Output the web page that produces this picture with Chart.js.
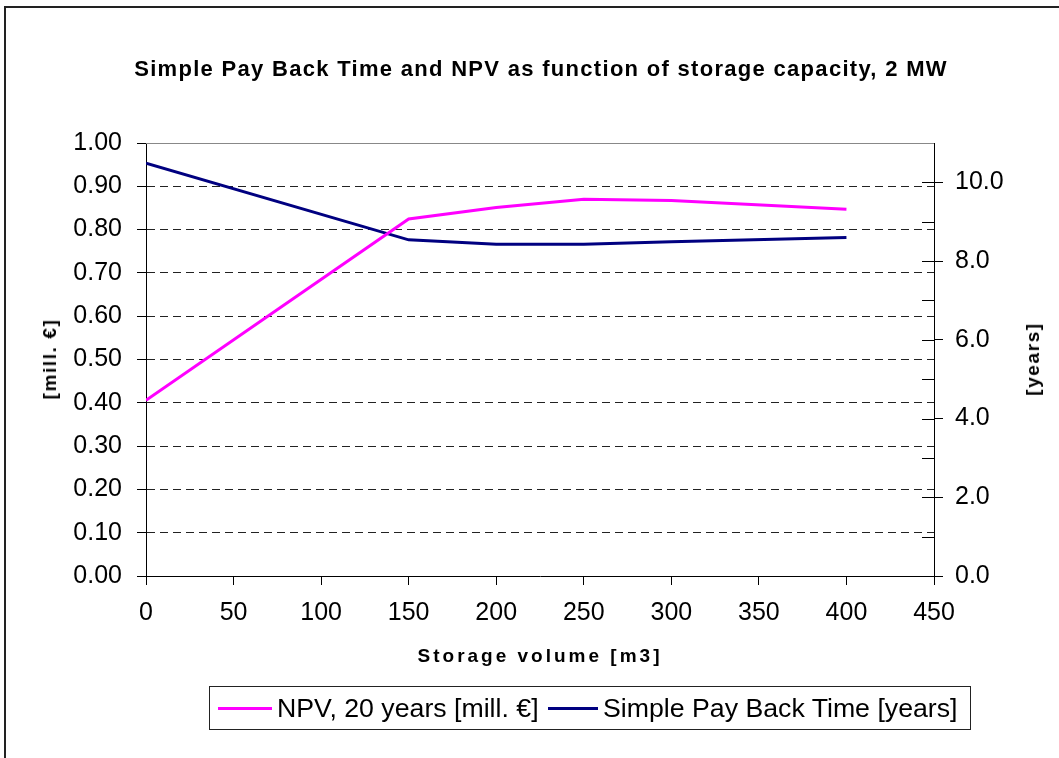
<!DOCTYPE html>
<html>
<head>
<meta charset="utf-8">
<script src="https://cdn.jsdelivr.net/npm/chart.js@4.4.0/dist/chart.umd.min.js"></script>
<style>
  html, body { margin:0; padding:0; background:#fff; }
  #wrap { position:relative; width:1059px; height:758px; overflow:hidden; font-family:"Liberation Sans", Arial, sans-serif; color:#000; }
  #frame { position:absolute; left:4px; top:6px; width:2000px; height:2000px; border-left:2px solid #222; border-top:2px solid #222; }
  canvas { position:absolute; left:0; top:0; }
  .t { position:absolute; white-space:nowrap; transform:translate(-50%,-50%); }
  #title { left:541px; top:69px; font-weight:bold; font-size:22px; letter-spacing:1.3px; }
  #xtitle { left:540px; top:656px; font-weight:bold; font-size:19px; letter-spacing:3px; }
  #ytitle { left:50px; top:359px; font-weight:bold; font-size:19px; letter-spacing:1.6px; transform:translate(-50%,-50%) rotate(-90deg); }
  #y2title { left:1033px; top:359px; font-weight:bold; font-size:19px; letter-spacing:1.6px; transform:translate(-50%,-50%) rotate(-90deg); }
  #legend { position:absolute; left:209px; top:686px; width:760px; height:42px; border:1px solid #222; }
  .ll { position:absolute; height:3px; top:20px; }
  .lt { position:absolute; top:21px; transform:translateY(-50%); font-size:26.7px; white-space:nowrap; }
</style>
</head>
<body>
<div id="wrap">
  <div id="frame"></div>
  <canvas id="c" width="1059" height="758"></canvas>
  <div class="t" id="title">Simple Pay Back Time and NPV as function of storage capacity, 2 MW</div>
  <div class="t" id="xtitle">Storage volume [m3]</div>
  <div class="t" id="ytitle">[mill. €]</div>
  <div class="t" id="y2title">[years]</div>
  <div id="legend">
    <div class="ll" style="left:8px;width:54px;background:#FF00FF"></div>
    <div class="lt" style="left:67px">NPV, 20 years [mill. €]</div>
    <div class="ll" style="left:338px;width:50px;background:#000080"></div>
    <div class="lt" style="left:393px">Simple Pay Back Time [years]</div>
  </div>
</div>
<script>
const volumes = [0, 150, 200, 250, 300, 400];
const npv = [0.406, 0.8245, 0.851, 0.870, 0.867, 0.847];
const payback = [10.49, 8.54, 8.43, 8.43, 8.49, 8.60];
const xTicks = [0, 50, 100, 150, 200, 250, 300, 350, 400, 450];
const yTicks = [0, 0.1, 0.2, 0.3, 0.4, 0.5, 0.6, 0.7, 0.8, 0.9, 1.0];
const y2Ticks = [0, 2, 4, 6, 8, 10];
const y2Minor = [1, 3, 5, 7, 9];

Chart.defaults.font.family = '"Liberation Sans", Arial, sans-serif';
Chart.defaults.color = '#000';

const frame = {
  id: 'frame',
  afterDraw(chart) {
    const {ctx, chartArea: a, scales} = chart;
    ctx.save();
    ctx.strokeStyle = '#888';
    ctx.lineWidth = 1;
    ctx.beginPath();
    ctx.moveTo(a.left, a.top + 0.5);
    ctx.lineTo(a.right, a.top + 0.5);
    ctx.stroke();
    ctx.strokeStyle = '#000';
    const y2 = scales.y2;
    ctx.beginPath();
    y2Ticks.forEach(v => { const p = Math.round(y2.getPixelForValue(v)) + 0.5; ctx.moveTo(a.right - 12, p); ctx.lineTo(a.right, p); });
    y2Minor.forEach(v => { const p = Math.round(y2.getPixelForValue(v)) + 0.5; ctx.moveTo(a.right - 12, p); ctx.lineTo(a.right, p); });
    ctx.stroke();
    ctx.restore();
  }
};

new Chart(document.getElementById('c'), {
  type: 'line',
  data: {
    datasets: [
      { label: 'NPV, 20 years [mill. €]', data: volumes.map((v, i) => ({x: v, y: npv[i]})), borderColor: '#FF00FF', backgroundColor: '#FF00FF', borderWidth: 3, pointRadius: 0, tension: 0, yAxisID: 'y' },
      { label: 'Simple Pay Back Time [years]', data: volumes.map((v, i) => ({x: v, y: payback[i]})), borderColor: '#000080', backgroundColor: '#000080', borderWidth: 3, pointRadius: 0, tension: 0, yAxisID: 'y2' }
    ]
  },
  options: {
    responsive: false,
    animation: false,
    layout: { padding: { top: 143, left: 0, right: 0, bottom: 0 } },
    plugins: { legend: { display: false }, title: { display: false }, tooltip: { enabled: false } },
    scales: {
      x: {
        type: 'linear', min: 0, max: 450,
        afterBuildTicks: s => { s.ticks = xTicks.map(v => ({value: v})); },
        afterFit: s => { s.height = 182; },
        ticks: { font: { size: 25 }, padding: 13, maxRotation: 0, autoSkip: false },
        grid: { drawOnChartArea: false, tickLength: 9, color: '#000' },
        border: { display: true, color: '#000', width: 1 }
      },
      y: {
        type: 'linear', position: 'left', min: 0, max: 1,
        afterBuildTicks: s => { s.ticks = yTicks.map(v => ({value: v})); },
        afterFit: s => { s.width = 146; },
        ticks: { font: { size: 25 }, padding: 15, callback: v => v.toFixed(2) },
        grid: {
          tickLength: 9, tickColor: '#000', tickBorderDash: [],
          color: c => (c.tick && (c.tick.value === 0 || c.tick.value === 1)) ? 'rgba(0,0,0,0)' : '#222'
        },
        border: { display: true, color: '#000', width: 1, dash: [8, 5] }
      },
      y2: {
        type: 'linear', position: 'right', min: 0, max: 11,
        afterBuildTicks: s => { s.ticks = y2Ticks.map(v => ({value: v})); },
        afterFit: s => { s.width = 125; },
        ticks: { font: { size: 25 }, padding: 12, callback: v => v.toFixed(1) },
        grid: { drawOnChartArea: false, tickLength: 9, color: '#000' },
        border: { display: true, color: '#000', width: 1 }
      }
    }
  },
  plugins: [frame]
});
</script>
</body>
</html>
